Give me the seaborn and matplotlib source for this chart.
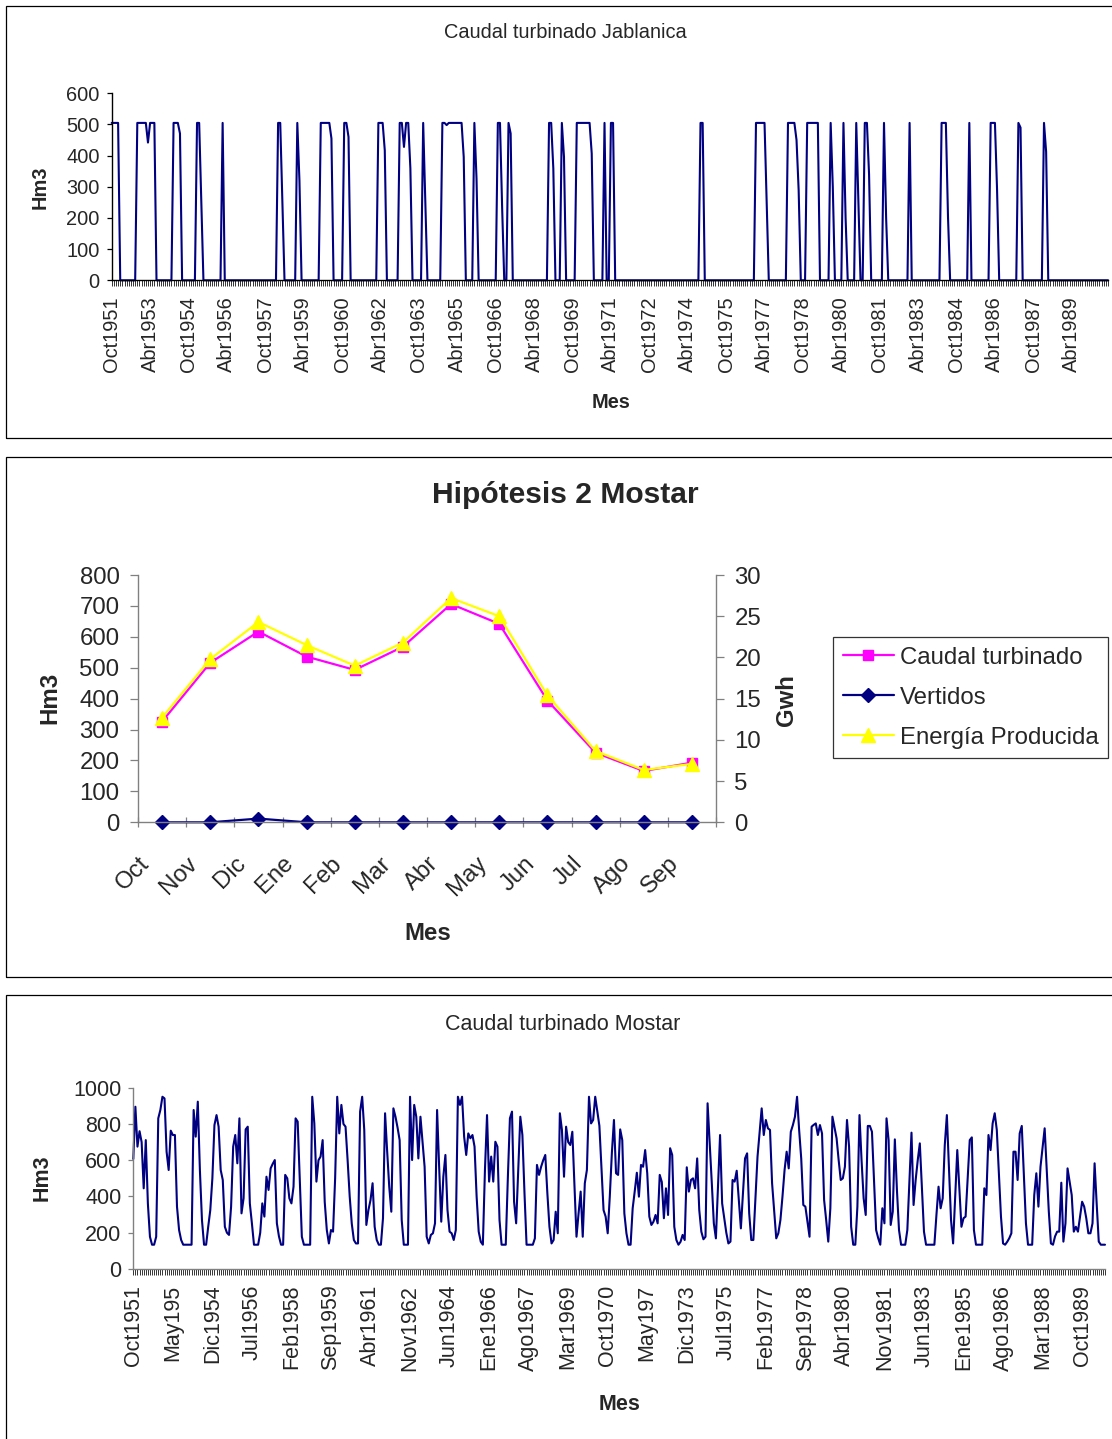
import numpy as np
import pandas as pd
import matplotlib
matplotlib.use('Agg')
import matplotlib.pyplot as plt
import matplotlib.transforms as mtrans
import seaborn as sns
from matplotlib.patches import Rectangle

# ---------------- DATA ----------------
# Caudal turbinado Jablanica (Hm3), monthly Oct1951 .. Sep1990, one row per hydrological year
jablanica = [
    505, 505, 505, 505, 0, 0, 0, 0, 0, 0, 0, 0,
    505, 505, 505, 505, 505, 442, 505, 505, 505, 0, 0, 0,
    0, 0, 0, 0, 0, 505, 505, 505, 471, 0, 0, 0,
    0, 0, 0, 0, 505, 505, 250, 0, 0, 0, 0, 0,
    0, 0, 0, 0, 505, 0, 0, 0, 0, 0, 0, 0,
    0, 0, 0, 0, 0, 0, 0, 0, 0, 0, 0, 0,
    0, 0, 0, 0, 0, 0, 505, 505, 250, 0, 0, 0,
    0, 0, 0, 505, 320, 0, 0, 0, 0, 0, 0, 0,
    0, 0, 505, 505, 505, 505, 505, 455, 0, 0, 0, 0,
    0, 505, 505, 460, 0, 0, 0, 0, 0, 0, 0, 0,
    0, 0, 0, 0, 0, 505, 505, 505, 417, 0, 0, 0,
    0, 0, 0, 505, 505, 428, 505, 505, 359, 0, 0, 0,
    0, 0, 505, 250, 0, 0, 0, 0, 0, 0, 0, 505,
    505, 498, 505, 505, 505, 505, 505, 505, 505, 396, 0, 0,
    0, 0, 505, 327, 0, 0, 0, 0, 0, 0, 0, 0,
    0, 505, 505, 236, 0, 0, 505, 471, 0, 0, 0, 0,
    0, 0, 0, 0, 0, 0, 0, 0, 0, 0, 0, 0,
    0, 505, 505, 359, 0, 0, 0, 505, 396, 0, 0, 0,
    0, 0, 505, 505, 505, 505, 505, 505, 505, 407, 0, 0,
    0, 0, 0, 505, 0, 0, 505, 505, 0, 0, 0, 0,
    0, 0, 0, 0, 0, 0, 0, 0, 0, 0, 0, 0,
    0, 0, 0, 0, 0, 0, 0, 0, 0, 0, 0, 0,
    0, 0, 0, 0, 0, 0, 0, 0, 0, 0, 0, 0,
    505, 505, 0, 0, 0, 0, 0, 0, 0, 0, 0, 0,
    0, 0, 0, 0, 0, 0, 0, 0, 0, 0, 0, 0,
    0, 0, 505, 505, 505, 505, 505, 250, 0, 0, 0, 0,
    0, 0, 0, 0, 0, 505, 505, 505, 505, 450, 289, 0,
    0, 0, 505, 505, 505, 505, 505, 505, 0, 0, 0, 0,
    0, 505, 300, 0, 0, 0, 0, 505, 200, 0, 0, 0,
    0, 505, 250, 0, 0, 505, 505, 340, 0, 0, 0, 0,
    0, 0, 505, 200, 0, 0, 0, 0, 0, 0, 0, 0,
    0, 0, 505, 0, 0, 0, 0, 0, 0, 0, 0, 0,
    0, 0, 0, 0, 0, 505, 505, 505, 204, 0, 0, 0,
    0, 0, 0, 0, 0, 0, 505, 0, 0, 0, 0, 0,
    0, 0, 0, 0, 505, 505, 505, 290, 0, 0, 0, 0,
    0, 0, 0, 0, 0, 505, 490, 0, 0, 0, 0, 0,
    0, 0, 0, 0, 0, 505, 412, 0, 0, 0, 0, 0,
    0, 0, 0, 0, 0, 0, 0, 0, 0, 0, 0, 0,
    0, 0, 0, 0, 0, 0, 0, 0, 0, 0, 0, 0,
]

# Caudal turbinado Mostar (Hm3), monthly Oct1951 .. Sep1990
mostar = [
    607, 895, 675, 760, 700, 445, 711, 362, 178, 134, 134, 178,
    831, 877, 950, 941, 647, 546, 763, 739, 739, 344, 215, 160,
    134, 134, 134, 134, 134, 877, 730, 923, 546, 270, 134, 134,
    233, 325, 500, 794, 849, 785, 546, 491, 233, 200, 188, 344,
    675, 739, 583, 831, 307, 390, 770, 785, 362, 252, 134, 134,
    134, 200, 362, 289, 509, 436, 555, 580, 601, 252, 180, 134,
    134, 519, 500, 390, 362, 454, 831, 813, 491, 178, 134, 134,
    134, 134, 950, 803, 482, 600, 620, 711, 370, 215, 141, 215,
    206, 500, 950, 748, 905, 800, 785, 600, 400, 250, 160, 141,
    141, 868, 950, 767, 243, 325, 380, 473, 233, 160, 134, 134,
    280, 859, 650, 454, 316, 886, 840, 780, 711, 270, 134, 134,
    134, 950, 601, 905, 840, 610, 840, 700, 564, 178, 141, 188,
    197, 252, 877, 560, 261, 509, 629, 325, 206, 197, 160, 215,
    950, 905, 950, 730, 629, 748, 721, 739, 675, 400, 206, 150,
    134, 546, 849, 482, 620, 482, 702, 675, 270, 134, 134, 134,
    500, 831, 868, 371, 252, 550, 840, 739, 420, 134, 134, 134,
    134, 169, 574, 519, 564, 600, 629, 417, 233, 141, 160, 316,
    197, 859, 767, 509, 785, 700, 684, 757, 470, 178, 307, 427,
    178, 473, 546, 950, 803, 822, 950, 870, 790, 560, 325, 289,
    197, 400, 640, 822, 528, 519, 770, 711, 307, 197, 134, 134,
    335, 430, 531, 399, 574, 564, 656, 528, 289, 243, 261, 298,
    252, 519, 480, 280, 445, 298, 666, 629, 233, 160, 134, 150,
    188, 160, 561, 427, 491, 500, 445, 610, 325, 206, 164, 178,
    914, 702, 480, 252, 169, 450, 739, 362, 280, 200, 141, 151,
    491, 482, 542, 380, 224, 417, 610, 638, 307, 160, 160, 390,
    620, 750, 886, 739, 822, 776, 767, 473, 320, 169, 197, 270,
    400, 546, 647, 555, 757, 794, 840, 950, 767, 610, 353, 344,
    260, 178, 785, 795, 803, 739, 794, 748, 381, 270, 151, 335,
    840, 780, 721, 600, 491, 500, 564, 822, 675, 233, 134, 134,
    344, 849, 600, 390, 298, 789, 789, 757, 480, 215, 170, 134,
    335, 252, 831, 711, 243, 316, 715, 436, 215, 134, 134, 134,
    215, 480, 752, 353, 491, 600, 693, 450, 206, 134, 134, 134,
    134, 134, 300, 454, 335, 390, 684, 849, 560, 270, 141, 400,
    656, 450, 233, 280, 289, 500, 711, 726, 215, 134, 134, 134,
    134, 445, 408, 739, 656, 803, 859, 767, 530, 289, 141, 134,
    150, 170, 197, 647, 647, 491, 748, 789, 520, 252, 134, 134,
    134, 408, 528, 344, 564, 670, 776, 550, 316, 141, 134, 180,
    206, 206, 476, 151, 252, 555, 482, 408, 206, 233, 206, 290,
    371, 344, 280, 197, 197, 252, 583, 360, 151, 134, 134, 134,
]

top_labels = ['Oct1951', 'Abr1953', 'Oct1954', 'Abr1956', 'Oct1957', 'Abr1959', 'Oct1960',
              'Abr1962', 'Oct1963', 'Abr1965', 'Oct1966', 'Abr1968', 'Oct1969', 'Abr1971',
              'Oct1972', 'Abr1974', 'Oct1975', 'Abr1977', 'Oct1978', 'Abr1980', 'Oct1981',
              'Abr1983', 'Oct1984', 'Abr1986', 'Oct1987', 'Abr1989']
top_label_step = 18

bottom_labels = ['Oct1951', 'May195', 'Dic1954', 'Jul1956', 'Feb1958', 'Sep1959', 'Abr1961',
                 'Nov1962', 'Jun1964', 'Ene1966', 'Ago1967', 'Mar1969', 'Oct1970', 'May197',
                 'Dic1973', 'Jul1975', 'Feb1977', 'Sep1978', 'Abr1980', 'Nov1981', 'Jun1983',
                 'Ene1985', 'Ago1986', 'Mar1988', 'Oct1989']
bottom_label_step = 19

meses = ['Oct', 'Nov', 'Dic', 'Ene', 'Feb', 'Mar', 'Abr', 'May', 'Jun', 'Jul', 'Ago', 'Sep']
caudal_turbinado = [326, 516, 617, 536, 493, 568, 706, 642, 394, 225, 166, 193]
vertidos = [0, 0, 12, 0, 0, 0, 0, 0, 0, 0, 0, 0]
energia_producida = [12.7, 19.8, 24.3, 21.5, 19.0, 21.8, 27.2, 25.0, 15.4, 8.65, 6.35, 7.08]

# ---------------- STYLE ----------------
sns.set_theme(style='white')
plt.rcParams['font.family'] = ['Liberation Sans', 'DejaVu Sans']
plt.rcParams['axes.linewidth'] = 1.0

W, H = 1112, 1439
fig = plt.figure(figsize=(W / 100, H / 100), dpi=100)
fig.patch.set_facecolor('white')
PT = 0.72  # points per pixel at dpi 100

NAVY = '#000080'
GREY = '#808080'


def rect(l, t, r, b):
    return [l / W, 1 - b / H, (r - l) / W, (b - t) / H]


# chart frames
for (t, b) in [(6, 438), (457, 977), (995, 1460)]:
    fig.patches.append(Rectangle((6 / W, 1 - b / H), (1140 - 6) / W, (b - t) / H,
                                 transform=fig.transFigure, fill=False,
                                 edgecolor='black', linewidth=0.9, zorder=0))


def style_series_axis(ax, n, labels, step, fs, spine_color, ylim, ystep):
    ax.set_xlim(0, n - 1)
    ax.set_ylim(*ylim)
    ax.set_yticks(np.arange(ylim[0], ylim[1] + 1, ystep))
    ax.set_xticks(np.arange(len(labels)) * step)
    ax.set_xticklabels(labels, rotation=90, fontsize=fs)
    ax.set_xticks(np.arange(n), minor=True)
    ax.tick_params(axis='y', labelsize=fs, length=5 * PT, width=0.9, direction='out',
                   color=spine_color, pad=5, left=True)
    ax.tick_params(axis='x', which='both', length=6 * PT, width=0.7, direction='out',
                   color='#333333', bottom=True)
    ax.tick_params(axis='x', which='major', pad=7)
    for s in ['top', 'right']:
        ax.spines[s].set_visible(False)
    for s in ['left', 'bottom']:
        ax.spines[s].set_color(spine_color)
        ax.spines[s].set_linewidth(1.0)
    ax.set_xlabel('')
    ax.set_ylabel('')
    ax.grid(False)
    ax.set_facecolor('none')


# ---------------- TOP: Caudal turbinado Jablanica ----------------
n1 = len(jablanica)
ax1 = fig.add_axes(rect(111.7, 93.3, 1108, 280.3))
df1 = pd.DataFrame({'mes': np.arange(n1), 'hm3': jablanica})
sns.lineplot(data=df1, x='mes', y='hm3', ax=ax1, color=NAVY, linewidth=1.5,
             estimator=None, clip_on=False)
style_series_axis(ax1, n1, top_labels, top_label_step, 14.4, 'black', (0, 600), 100)
fig.text(565 / W, 1 - 33 / H, 'Caudal turbinado Jablanica', ha='center', va='center', fontsize=14.4)
fig.text(611 / W, 1 - 403 / H, 'Mes', ha='center', va='center', fontsize=14.4, fontweight='bold')
fig.text(40 / W, 1 - 187 / H, 'Hm3', ha='center', va='center', fontsize=14.4,
         fontweight='bold', rotation=90)

# ---------------- MIDDLE: Hipótesis 2 Mostar ----------------
FS2 = 17.3
ax2 = fig.add_axes(rect(138, 575, 716, 822.3))
xm = np.arange(len(meses))
sns.lineplot(x=xm, y=caudal_turbinado, ax=ax2, color='#FF00FF', linewidth=1.6, marker='s',
             markersize=7.5, markeredgecolor='#FF00FF', markeredgewidth=1, clip_on=False,
             label='Caudal turbinado', legend=False)
sns.lineplot(x=xm, y=vertidos, ax=ax2, color=NAVY, linewidth=1.6, marker='D',
             markersize=7.5, markeredgecolor=NAVY, markeredgewidth=1, clip_on=False,
             label='Vertidos', legend=False)
ax2.set_xlim(-0.5, len(meses) - 0.5)
ax2.set_ylim(0, 800)
ax2.set_yticks(np.arange(0, 801, 100))
ax2.set_xticks(xm)
ax2.set_xticklabels([])
ax2.set_xticks(np.arange(len(meses) + 1) - 0.5, minor=True)
ax2.tick_params(axis='x', which='major', length=0)
ax2.tick_params(axis='x', which='minor', length=10 * PT, width=0.9, direction='inout',
                color=GREY, bottom=True)
ax2.tick_params(axis='y', labelsize=FS2, length=8 * PT, width=0.9, direction='out',
                color=GREY, pad=7.5, left=True)
for s in ['top', 'right']:
    ax2.spines[s].set_visible(False)
for s in ['left', 'bottom']:
    ax2.spines[s].set_color(GREY)
ax2.set_xlabel('')
ax2.set_ylabel('')
ax2.grid(False)
ax2.set_facecolor('none')

ax3 = ax2.twinx()
sns.lineplot(x=xm, y=energia_producida, ax=ax3, color='#FFFF00', linewidth=1.6, marker='^',
             markersize=9.5, markeredgecolor='#FFFF00', markeredgewidth=1, clip_on=False,
             label='Energía Producida', legend=False)
ax3.set_ylim(0, 30)
ax3.set_yticks(np.arange(0, 31, 5))
ax3.tick_params(axis='y', labelsize=FS2, length=8 * PT, width=0.9, direction='out',
                color=GREY, pad=7.5, right=True)
for s in ['top', 'left', 'bottom']:
    ax3.spines[s].set_visible(False)
ax3.spines['right'].set_color(GREY)
ax3.set_xlabel('')
ax3.set_ylabel('')
ax3.grid(False)

lab_tr = mtrans.offset_copy(ax2.transData, fig=fig, x=-24, y=-30, units='dots')
for i, m in enumerate(meses):
    ax2.text(i, 0, m, transform=lab_tr, rotation=45, ha='right', va='top',
             rotation_mode='anchor', fontsize=FS2)

fig.text(565 / W, 1 - 495 / H, 'Hipótesis 2 Mostar', ha='center', va='center',
         fontsize=21.6, fontweight='bold')
fig.text(428 / W, 1 - 933 / H, 'Mes', ha='center', va='center', fontsize=FS2, fontweight='bold')
fig.text(50 / W, 1 - 698 / H, 'Hm3', ha='center', va='center', fontsize=FS2,
         fontweight='bold', rotation=90)
fig.text(787 / W, 1 - 700 / H, 'Gwh', ha='center', va='center', fontsize=FS2,
         fontweight='bold', rotation=90)

handles = [ax2.lines[0], ax2.lines[1], ax3.lines[0]]
labels = ['Caudal turbinado', 'Vertidos', 'Energía Producida']
leg = fig.legend(handles, labels, loc='upper left', bbox_to_anchor=(833 / W, 1 - 637 / H),
                 frameon=True, fancybox=False, edgecolor='black', fontsize=FS2,
                 handlelength=2.15, handletextpad=0.22, labelspacing=0.75, borderpad=0.4,
                 borderaxespad=0)
leg.get_frame().set_linewidth(0.9)

# ---------------- BOTTOM: Caudal turbinado Mostar ----------------
n3 = len(mostar)
ax4 = fig.add_axes(rect(133.3, 1087.7, 1105, 1269))
df4 = pd.DataFrame({'mes': np.arange(n3), 'hm3': mostar})
sns.lineplot(data=df4, x='mes', y='hm3', ax=ax4, color=NAVY, linewidth=1.5,
             estimator=None, clip_on=False)
style_series_axis(ax4, n3, bottom_labels, bottom_label_step, 15.5, GREY, (0, 1000), 200)
fig.text(563 / W, 1 - 1025 / H, 'Caudal turbinado Mostar', ha='center', va='center', fontsize=15.5)
fig.text(620 / W, 1 - 1405 / H, 'Mes', ha='center', va='center', fontsize=15.5, fontweight='bold')
fig.text(42 / W, 1 - 1178 / H, 'Hm3', ha='center', va='center', fontsize=15.5,
         fontweight='bold', rotation=90)

fig.savefig('out.png', dpi=100, facecolor='white')
